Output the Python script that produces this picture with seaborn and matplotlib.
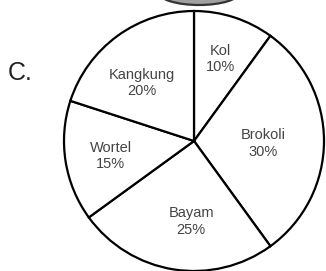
import numpy as np
import matplotlib
matplotlib.use("Agg")
import matplotlib.pyplot as plt
import seaborn as sns
from matplotlib.patches import Ellipse

# vegetable shares (percent), clockwise from the top
sayur = ["Kol", "Brokoli", "Bayam", "Wortel", "Kangkung"]
persen = [10, 30, 25, 15, 20]

sns.set_theme(style="white")
plt.rcParams['font.family'] = ['Liberation Sans', 'DejaVu Sans']

W, H = 326, 271
fig = plt.figure(figsize=(W / 100, H / 100), dpi=100)
ax = fig.add_axes([0, 0, 1, 1])

cx, cy, r = 194, H - 141, 130
wedges, _ = ax.pie(
    persen,
    startangle=90,
    counterclock=False,
    center=(cx, cy),
    radius=r,
    colors=["white"] * len(persen),
    wedgeprops=dict(edgecolor="black", linewidth=1.6),
    frame=True,
)

# label placement: distance from centre as fraction of radius, plus angle tweak
dist = [0.66, 0.53, 0.62, 0.65, 0.60]
tweak = [0, -2, 7, 1, 6]
for w, name, p, d, t in zip(wedges, sayur, persen, dist, tweak):
    ang = np.deg2rad((w.theta1 + w.theta2) / 2 + t)
    x = cx + d * r * np.cos(ang)
    y = cy + d * r * np.sin(ang)
    ax.text(x, y, f"{name}\n{p}%", ha="center", va="center",
            fontsize=10.5, color="#444444", linespacing=1.2)

# bottom of the previous figure peeking in at the top
ax.add_patch(Ellipse((199, H + 8), 82, 26, facecolor="#a0a0a0",
                     edgecolor="#333333", linewidth=1.6, zorder=0))

ax.text(8, H - 73, "C.", fontsize=18, color="#222222", va="center", ha="left")

ax.set_xlim(0, W)
ax.set_ylim(0, H)
ax.set_aspect("auto")
ax.axis("off")

fig.savefig("out.png", dpi=100, facecolor="white")
